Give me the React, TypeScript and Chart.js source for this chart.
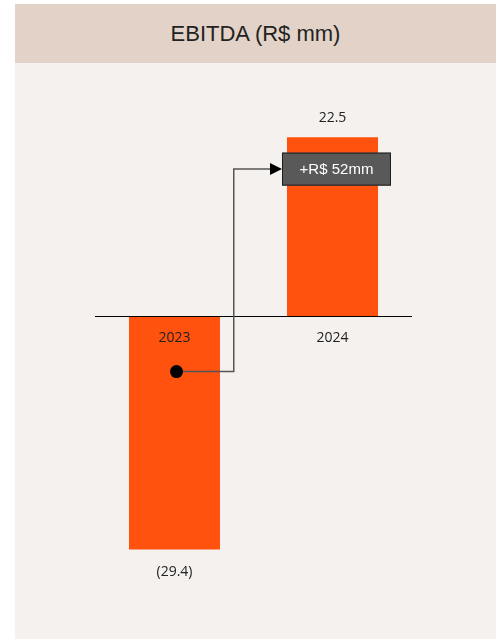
import React, { useEffect, useRef } from "react";
import { Chart, registerables } from "chart.js";

Chart.register(...registerables);

const title = "EBITDA (R$ mm)";
const categories = ["2023", "2024"];
const ebitda = [-29.4, 22.5];
const valueLabels = ["(29.4)", "22.5"];
const yMin = -35;
const yMax = 30;
// bridge annotation (start value on 2023 bar, end value beside 2024 bar)
const bridgeFromValue = -7;
const bridgeToValue = 18.5;
const bridgeElbowCategory = 0.375;
const bridgeLabel = `+R$ ${Math.round(ebitda[1] - ebitda[0])}mm`;

const BAR_COLOR = "#FE520E";
const TEXT = "#222222";
const LABEL_FONT = '14px "Open Sans", "Noto Sans", sans-serif';

const overlayPlugin = {
  id: "overlay",
  afterDraw(chart: any) {
    const ctx = chart.ctx;
    const meta = chart.getDatasetMeta(0);
    const xS = chart.scales.x;
    const yS = chart.scales.y;
    ctx.save();
    // value labels
    ctx.font = LABEL_FONT;
    ctx.fillStyle = TEXT;
    ctx.textAlign = "center";
    ctx.textBaseline = "middle";
    meta.data.forEach((el: any, i: number) => {
      const v = ebitda[i];
      const y = v >= 0 ? el.y - 19 : el.y + 23;
      ctx.fillText(valueLabels[i], el.x, y);
    });

    // bridge
    const bar0 = meta.data[0];
    const bar1 = meta.data[1];
    const dotX = bar0.x + 2;
    const dotY = yS.getPixelForValue(bridgeFromValue);
    const elbowX = xS.getPixelForValue(bridgeElbowCategory);
    const toY = yS.getPixelForValue(bridgeToValue);
    const boxLeft = bar1.x - bar1.width / 2 - 5;
    const boxW = 109;
    const boxH = 33;

    ctx.strokeStyle = "#555555";
    ctx.lineWidth = 1.5;
    ctx.beginPath();
    ctx.moveTo(dotX, dotY);
    ctx.lineTo(elbowX, dotY);
    ctx.lineTo(elbowX, toY);
    ctx.lineTo(boxLeft - 11, toY);
    ctx.stroke();

    ctx.fillStyle = "#000000";
    ctx.beginPath();
    ctx.moveTo(boxLeft, toY);
    ctx.lineTo(boxLeft - 12, toY - 6);
    ctx.lineTo(boxLeft - 12, toY + 6);
    ctx.closePath();
    ctx.fill();

    ctx.beginPath();
    ctx.arc(dotX, dotY, 6.5, 0, Math.PI * 2);
    ctx.fill();

    ctx.fillStyle = "#595959";
    ctx.fillRect(boxLeft, toY - boxH / 2, boxW, boxH);
    ctx.strokeStyle = "#1e1e1e";
    ctx.lineWidth = 1;
    ctx.strokeRect(boxLeft + 0.5, toY - boxH / 2 + 0.5, boxW - 1, boxH - 1);
    ctx.fillStyle = "#ffffff";
    ctx.font = '15px "Liberation Sans", Arial, sans-serif';
    ctx.fillText(bridgeLabel, boxLeft + boxW / 2, toY + 1);
    ctx.restore();
  },
};

export default function App() {
  const ref = useRef<HTMLCanvasElement>(null);
  useEffect(() => {
    if (!ref.current) return;
    const chart = new Chart(ref.current, {
      type: "bar",
      data: {
        labels: categories,
        datasets: [
          {
            data: ebitda,
            backgroundColor: BAR_COLOR,
            borderWidth: 0,
            barPercentage: 0.576,
            categoryPercentage: 1,
          },
        ],
      },
      options: {
        animation: false,
        responsive: false,
        devicePixelRatio: 1,
        layout: { padding: { left: 80.5, right: 84.5, top: 14.8, bottom: 45.1 } },
        plugins: {
          legend: { display: false },
          tooltip: { enabled: false },
          title: { display: false },
        },
        scales: {
          x: {
            position: { y: 0 } as any,
            grid: { display: false, drawTicks: false },
            border: { display: true, color: "#000000", width: 1, z: 1 } as any,
            ticks: {
              z: 1,
              color: TEXT,
              font: { family: '"Open Sans", "Noto Sans", sans-serif', size: 14 },
              padding: 14,
            },
          },
          y: {
            display: false,
            min: yMin,
            max: yMax,
            grid: { display: false },
          },
        },
      },
      plugins: [overlayPlugin],
    });
    return () => chart.destroy();
  }, []);

  return (
    <div style={{ position: "absolute", left: 0, top: 0, width: 500, height: 639, background: "#ffffff" }}>
      <div
        style={{
          position: "absolute",
          left: 15,
          top: 4,
          width: 481,
          height: 59,
          background: "#E2D2C7",
          display: "flex",
          alignItems: "center",
          justifyContent: "center",
          font: '22px "Liberation Sans", Arial, sans-serif',
          color: TEXT,
        }}
      >
        {title}
      </div>
      <div style={{ position: "absolute", left: 15, top: 63, width: 481, height: 576, background: "#F5F1EE" }}>
        <canvas ref={ref} width={481} height={576} style={{ display: "block", width: 481, height: 576 }} />
      </div>
    </div>
  );
}
